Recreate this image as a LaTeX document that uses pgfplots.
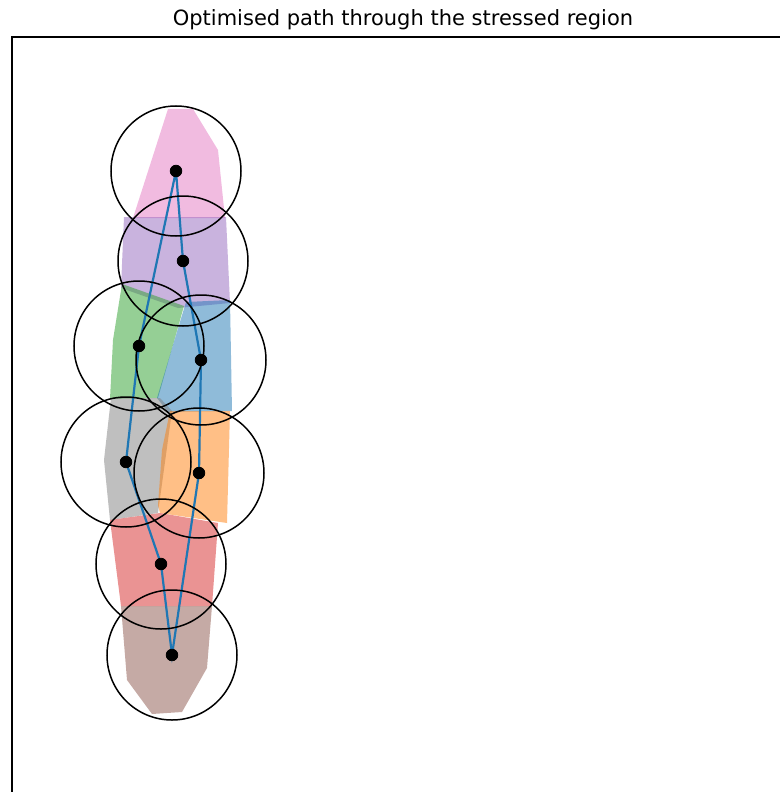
\documentclass[border=0pt]{standalone}
\usepackage{pgfplots}
\pgfplotsset{compat=1.18}
\usepackage{fontspec}
\setmainfont{DejaVu Sans}
\definecolor{tabblue}{HTML}{1F77B4}
\definecolor{taborange}{HTML}{FF7F0E}
\definecolor{tabgreen}{HTML}{2CA02C}
\definecolor{tabred}{HTML}{D62728}
\definecolor{tabpurple}{HTML}{9467BD}
\definecolor{tabbrown}{HTML}{8C564B}
\definecolor{tabpink}{HTML}{E377C2}
\definecolor{tabgray}{HTML}{7F7F7F}
\begin{document}
\begin{tikzpicture}
\begin{axis}[
  scale only axis,
  width=392pt, height=387.5pt,
  xmin=12, xmax=796, ymin=37, ymax=812,
  y dir=reverse,
  xtick=\empty, ytick=\empty,
  axis line style={black, line width=0.7pt},
  clip=false,
  region/.style={draw=none, fill opacity=0.5, forget plot},
]
\coordinate (bbA) at (axis cs:0,0);
\coordinate (bbB) at (axis cs:780,792);
% regions (convex hulls)
\addplot[region, fill=tabpink] coordinates {(168,109) (193,109) (218,150) (225,218) (133,218)} -- cycle;
\addplot[region, fill=tabpurple] coordinates {(124,217) (226,217) (230,303) (178,308) (121,288)} -- cycle;
\addplot[region, fill=tabgreen] coordinates {(122,284) (184,306) (158,398) (110,399) (113,340)} -- cycle;
\addplot[region, fill=tabblue] coordinates {(186,302) (230,300) (232,411) (168,412) (157,398)} -- cycle;
\addplot[region, fill=tabgray] coordinates {(111,398) (160,398) (172,411) (158,513) (110,520) (104,460)} -- cycle;
\addplot[region, fill=taborange] coordinates {(170,411) (230,411) (227,523) (160,513) (158,505) (162,450)} -- cycle;
\addplot[region, fill=tabred] coordinates {(110,520) (160,513) (218,523) (212,606) (121,606)} -- cycle;
\addplot[region, fill=tabbrown] coordinates {(121,606) (212,606) (207,668) (182,712) (152,714) (127,680)} -- cycle;
% circles
\addplot[only marks, mark=o, mark size=32.5pt, mark options={black, line width=0.75pt}] coordinates {
(176,171) (183,261) (139,346) (201,360) (126,462) (199,473) (161,564) (172,655)};
% path
\addplot[tabblue, line width=1.1pt] coordinates {
(176,171) (183,261) (201,360) (199,473) (172,655) (161,564) (126,462) (139,346) (176,171)};
% centres
\addplot[only marks, mark=*, mark size=2.9pt, black] coordinates {
(176,171) (183,261) (139,346) (201,360) (126,462) (199,473) (161,564) (172,655)};
\node[font=\fontsize{10.5}{12}\selectfont, anchor=base] at (axis cs:403,25.5) {Optimised path through the stressed region};
\end{axis}
\pgfresetboundingbox
\useasboundingbox (bbA) rectangle (bbB);
\end{tikzpicture}
\end{document}
